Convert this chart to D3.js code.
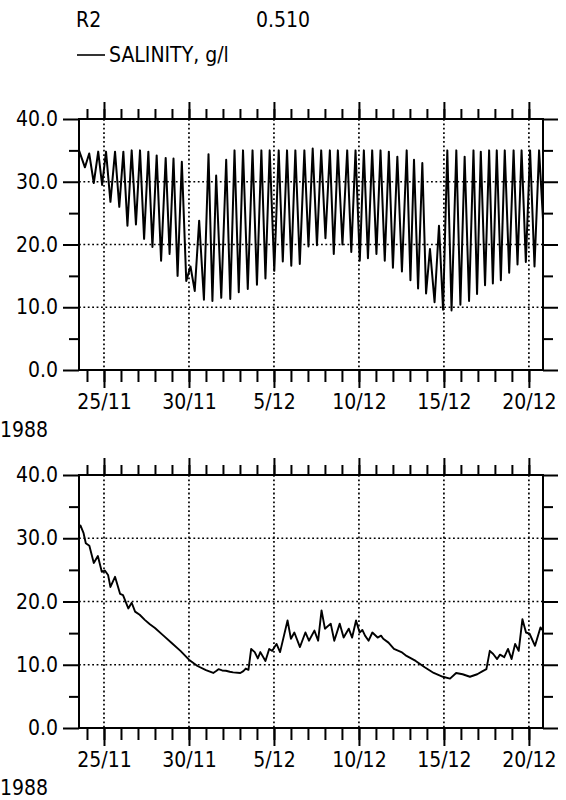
<!DOCTYPE html>
<html><head><meta charset="utf-8">
<script src="https://cdn.jsdelivr.net/npm/d3@7"></script>
<style>
body{margin:0;background:#fff}
svg text{font-family:"DejaVu Sans Condensed","Liberation Sans Narrow","Liberation Sans",sans-serif;fill:#000}
</style></head><body>
<svg id="c" width="566" height="800"></svg>
<script>
// ---------- data ----------
const titleLeft = "R2";
const titleRight = "0.510";
const legendLabel = "SALINITY, g/l";
const yearLabel = "1988";
const yMajor = [0, 10, 20, 30, 40];
const yMinor = [5, 15, 25, 35];
const yGrid = [10, 20, 30];
// day numbers counted from 1 Nov 1988 (31 = 1 Dec)
const majorDays = [25, 30, 35, 40, 45, 50];
const majorLabels = ["25/11", "30/11", "5/12", "10/12", "15/12", "20/12"];
const xStartDay = 23.53, xEndDay = 50.83;

// upper panel: tidal salinity, one entry per tide (high water), with the low that precedes it
const topStart = [23.53, 35.0];
const topEnd = [50.83, 24.0];
const topPeakTime = [24.13,24.66,25.12,25.65,26.14,26.63,27.12,27.61,28.10,28.63,29.09,29.58,30.09,30.60,31.15,31.60,32.19,32.68,33.18,33.74,34.26,34.75,35.28,35.77,36.26,36.79,37.28,37.78,38.29,38.76,39.31,39.80,40.29,40.78,41.27,41.76,42.26,42.81,43.24,43.73,44.18,44.71,45.20,45.73,46.22,46.74,47.17,47.66,48.11,48.58,49.10,49.57,50.07,50.60];
const topPeakValue = [34.5,34.8,34.8,34.8,34.8,35.0,35.0,34.8,34.2,33.8,33.7,33.2,16.5,23.8,34.4,31.0,33.5,35.0,35.0,35.0,35.0,35.0,35.0,35.0,35.0,35.0,35.3,35.0,35.0,35.0,35.0,35.0,35.0,35.0,35.0,34.8,34.0,35.0,33.5,33.0,19.3,23.0,35.0,35.0,34.0,35.0,34.8,35.0,35.0,35.0,35.0,35.0,35.0,35.0];
const topLowTime = [23.88,24.40,24.89,25.38,25.90,26.38,26.88,27.36,27.85,28.36,28.86,29.33,29.84,30.34,30.88,31.38,31.90,32.43,32.93,33.46,34.00,34.50,35.02,35.52,36.02,36.52,37.03,37.53,38.03,38.52,39.03,39.55,40.05,40.53,41.03,41.52,42.00,42.53,43.03,43.48,43.95,44.45,44.95,45.45,45.97,46.48,46.95,47.42,47.88,48.35,48.84,49.33,49.82,50.33];
const topLowValue = [32.3,29.8,29.5,26.8,26.0,23.0,23.2,20.9,19.6,17.4,18.5,15.0,14.2,12.6,11.2,11.0,11.5,11.3,12.4,12.9,13.6,14.6,15.8,17.3,16.6,16.9,19.7,19.9,21.0,18.5,20.0,18.8,17.4,17.8,18.5,17.4,16.3,15.7,14.3,13.0,12.2,10.8,9.6,9.5,10.4,11.0,12.1,13.5,13.8,14.3,15.5,16.8,17.2,16.5];

// lower panel: filtered salinity
const bottomTime = [23.53,23.62,23.80,23.93,24.14,24.40,24.64,24.87,25.05,25.24,25.38,25.65,25.95,26.12,26.43,26.63,26.83,27.10,27.40,27.70,28.00,28.50,29.00,29.50,30.00,30.50,31.00,31.43,31.60,31.74,31.95,32.17,32.40,32.60,33.02,33.20,33.34,33.50,33.66,33.87,34.05,34.20,34.50,34.72,34.90,35.15,35.36,35.80,36.00,36.20,36.53,36.85,37.06,37.38,37.60,37.80,38.00,38.34,38.55,38.87,39.10,39.40,39.60,39.83,40.04,40.20,40.36,40.57,40.79,41.10,41.30,41.43,41.74,42.06,42.50,42.80,43.34,43.87,44.40,44.94,45.36,45.72,46.10,46.53,46.96,47.28,47.50,47.70,47.90,48.13,48.30,48.55,48.77,48.98,49.19,49.40,49.62,49.83,50.04,50.36,50.68,50.83];
const bottomValue = [31.6,32.0,30.8,29.2,28.8,26.1,27.2,24.7,24.9,24.2,22.3,23.9,21.2,21.0,18.9,19.8,18.4,17.9,17.1,16.4,15.8,14.6,13.4,12.2,10.8,9.8,9.15,8.7,9.0,9.3,9.1,9.05,8.9,8.8,8.7,9.0,9.4,9.2,12.5,12.0,11.0,12.0,10.6,12.5,12.2,13.3,12.0,17.0,14.1,15.1,12.8,15.1,13.8,15.4,13.8,18.6,15.7,16.5,13.8,16.5,14.3,15.7,14.3,17.0,15.1,15.5,14.6,13.8,15.1,14.3,14.6,14.1,13.5,12.5,12.0,11.4,10.6,9.6,8.7,8.1,7.8,8.7,8.5,8.1,8.5,9.0,9.3,12.2,11.7,10.9,11.6,11.2,12.5,10.9,13.3,12.2,17.2,15.1,14.9,13.0,15.9,15.4];

// ---------- drawing ----------
const toDate = d => new Date(Date.UTC(1988, 10, 1) + (d - 1) * 864e5);
const svg = d3.select("#c");
const FS = 21;
const FONT = '"DejaVu Sans Condensed","Liberation Sans Narrow","Liberation Sans",sans-serif';

const x = d3.scaleUtc().domain([toDate(xStartDay), toDate(xEndDay)]).range([79, 543]);
const dayTicks = d3.utcDay.range(toDate(24), toDate(51));
const majorDates = majorDays.map(toDate);

// header
svg.append("text").attr("x", 76).attr("y", 27).attr("font-size", FS).text(titleLeft);
svg.append("text").attr("x", 256).attr("y", 27).attr("font-size", FS).text(titleRight);
svg.append("line").attr("x1", 77).attr("x2", 105).attr("y1", 55).attr("y2", 55).attr("stroke", "#000").attr("stroke-width", 1.6);
svg.append("text").attr("x", 109).attr("y", 62).attr("font-size", FS).text(legendLabel);

// upper-panel points: lows and highs in time order
const topPoints = [[topStart[0], topStart[1]]];
topPeakTime.forEach((tp, i) => {
  topPoints.push([topLowTime[i], topLowValue[i]]);
  topPoints.push([tp, topPeakValue[i]]);
});
topPoints.push([topEnd[0], topEnd[1]]);
const bottomPoints = bottomTime.map((t, i) => [t, bottomValue[i]]);

function panel(yTop, yBot, pts, lw) {
  const y = d3.scaleLinear().domain([0, 40]).range([yBot, yTop]);
  const g = svg.append("g");
  const [xl, xr] = x.range();

  // grid
  g.selectAll(".vg").data(majorDates).join("line")
    .attr("x1", d => x(d)).attr("x2", d => x(d)).attr("y1", y(40)).attr("y2", y(0))
    .attr("stroke", "#000").attr("stroke-width", 1.7).attr("stroke-dasharray", "1.8,2.6");
  g.selectAll(".hg").data(yGrid).join("line")
    .attr("x1", xl).attr("x2", xr).attr("y1", d => y(d)).attr("y2", d => y(d))
    .attr("stroke", "#000").attr("stroke-width", 1.7).attr("stroke-dasharray", "1.8,2.6");

  const styleAxis = sel => {
    sel.select(".domain").remove();
    sel.selectAll(".tick line").attr("stroke", "#000").attr("stroke-width", 2);
    sel.selectAll(".tick text").attr("font-size", FS).attr("font-family", FONT);
  };

  // left axis
  g.append("g").attr("transform", `translate(${xl},0)`)
    .call(d3.axisLeft(y).tickValues(yMajor).tickSize(16).tickPadding(5).tickFormat(d3.format(".1f"))).call(styleAxis);
  g.append("g").attr("transform", `translate(${xl},0)`)
    .call(d3.axisLeft(y).tickValues(yMinor).tickSize(10).tickFormat("")).call(styleAxis);
  // right axis
  g.append("g").attr("transform", `translate(${xr},0)`)
    .call(d3.axisRight(y).tickValues(yMajor).tickSize(15).tickFormat("")).call(styleAxis);
  g.append("g").attr("transform", `translate(${xr},0)`)
    .call(d3.axisRight(y).tickValues(yMinor).tickSize(10).tickFormat("")).call(styleAxis);
  // top axis
  g.append("g").attr("transform", `translate(0,${yTop})`)
    .call(d3.axisTop(x).tickValues(dayTicks).tickSize(10).tickFormat("")).call(styleAxis);
  g.append("g").attr("transform", `translate(0,${yTop})`)
    .call(d3.axisTop(x).tickValues(majorDates).tickSize(17).tickFormat("")).call(styleAxis);
  // bottom axis
  g.append("g").attr("transform", `translate(0,${yBot})`)
    .call(d3.axisBottom(x).tickValues(dayTicks).tickSize(12).tickFormat("")).call(styleAxis);
  g.append("g").attr("transform", `translate(0,${yBot})`)
    .call(d3.axisBottom(x).tickValues(majorDates).tickSize(18).tickPadding(6).tickFormat((d, i) => majorLabels[i])).call(styleAxis);

  // frame
  g.append("rect").attr("x", xl).attr("y", yTop).attr("width", xr - xl).attr("height", yBot - yTop)
    .attr("fill", "none").attr("stroke", "#000").attr("stroke-width", 2);

  // year
  g.append("text").attr("x", 0).attr("y", yBot + 67).attr("font-size", FS).text(yearLabel);

  // data
  g.append("path").datum(pts)
    .attr("fill", "none").attr("stroke", "#000").attr("stroke-width", lw).attr("stroke-linejoin", "round")
    .attr("d", d3.line().x(d => x(toDate(d[0]))).y(d => y(d[1])));
}

panel(119, 370, topPoints, 2.0);
panel(475, 728, bottomPoints, 1.9);
</script>
</body></html>
